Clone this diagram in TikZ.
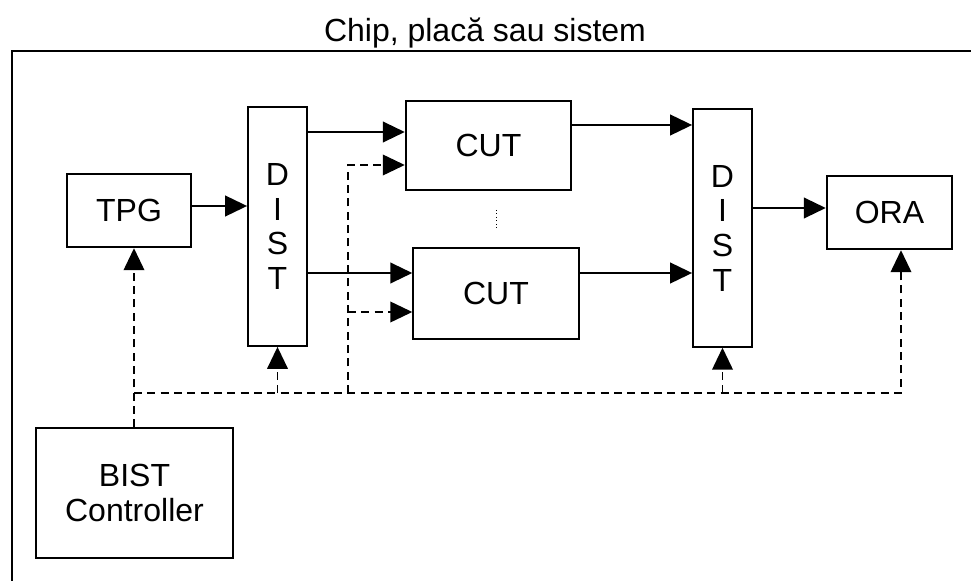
\documentclass[tikz,border=0pt]{standalone}
\usepackage{fontspec}
\setmainfont{Liberation Sans}
\usetikzlibrary{arrows.meta, calc}

\begin{document}
\begin{tikzpicture}[x=0.75pt, y=-0.75pt, >={Triangle[length=16.5pt,width=15.5pt]},
  font=\fontsize{24}{26}\selectfont,
  blk/.style={draw, line width=1.6pt, inner sep=0pt, align=center},
  sig/.style={->, line width=1.6pt},
  ctl/.style={line width=1.3pt, dash pattern=on 6pt off 4pt}]
  \useasboundingbox (0,0) rectangle (971,581);
  % --- frame and title ---
  \node (title) at (485,33) {Chip, plac\u{a} sau sistem};
  \draw[line width=1.6pt] (12,581) -- (12,51) -- (971,51);
  % --- blocks ---
  \node[blk, minimum width=93pt,  minimum height=55pt]  (tpg)   at (129,210.5)   {TPG};
  \node[blk, minimum width=44pt,  minimum height=179pt] (dist1) at (277.5,226.5) {D\\I\\S\\T};
  \node[blk, minimum width=124pt, minimum height=67pt]  (cut1)  at (488.5,145.5) {CUT};
  \node[blk, minimum width=124pt, minimum height=68pt]  (cut2)  at (496,293.5)   {CUT};
  \node[blk, minimum width=44pt,  minimum height=178pt] (dist2) at (722.5,228)   {D\\I\\S\\T};
  \node[blk, minimum width=94pt,  minimum height=55pt]  (ora)   at (889.5,212.5) {ORA};
  \node[blk, minimum width=148pt, minimum height=97pt]  (bist)  at (134.5,493)   {BIST\\Controller};
  \draw[line width=0.6pt, dotted] (496,210) -- (496,228);
  % --- data path ---
  \draw[sig] (tpg.east |- 0,206) -- (dist1.west |- 0,206);
  \draw[sig] (dist1.east |- 0,132) -- (cut1.west |- 0,132);
  \draw[sig] (dist1.east |- 0,273) -- (cut2.west |- 0,273);
  \draw[sig] (cut1.east |- 0,125) -- (dist2.west |- 0,125);
  \draw[sig] (cut2.east |- 0,273) -- (dist2.west |- 0,273);
  \draw[sig] (dist2.east |- 0,208) -- (ora.west |- 0,208);
  % --- control lines ---
  \coordinate (busL) at (134,393);
  \coordinate (busR) at (901,393);
  \coordinate (tap)  at (348,393);
  \draw[ctl, ->] (bist.north -| busL) -- (busL |- tpg.south);
  \draw[ctl, ->] (busL) -- (busR) -- (busR |- ora.south);
  \draw[ctl, ->] (dist1.south |- busL) -- (dist1.south);
  \draw[ctl, ->] (dist2.south |- busL) -- (dist2.south);
  \draw[ctl, ->] (tap) |- (cut1.west |- 0,165);
  \draw[ctl, ->] (tap |- 0,312) -- (cut2.west |- 0,312);
\end{tikzpicture}
\end{document}
